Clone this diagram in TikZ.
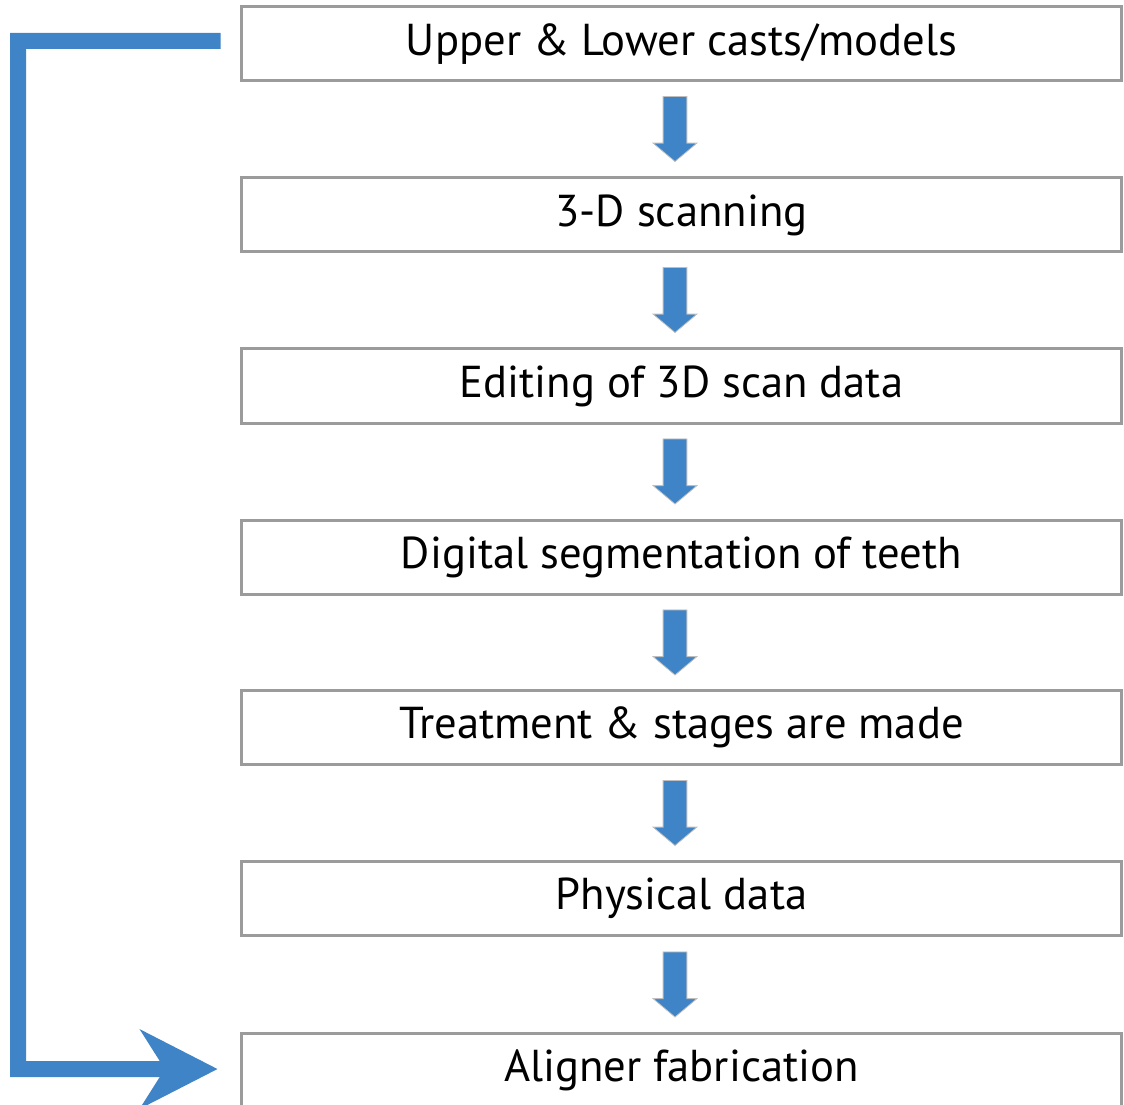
\documentclass[tikz,border=0pt]{standalone}
\usepackage{amsmath}
\usepackage{fontspec}
\setmainfont{PT Sans}
\usepackage{tikz}
\usetikzlibrary{shapes.arrows,arrows.meta}

\definecolor{flowblue}{RGB}{63,132,198}
\definecolor{boxgray}{RGB}{155,155,155}
\definecolor{edgegray}{RGB}{190,190,190}

\tikzset{
  stepbox/.style={draw=boxgray, line width=2.25pt, fill=white, minimum width=660pt, minimum height=55.5pt, inner sep=0pt, font=\fontsize{33.5}{38}\selectfont},
  downarrow/.style={single arrow, shape border rotate=270, fill=flowblue, draw=edgegray, line width=0.6pt, minimum height=48.75pt, minimum width=32.25pt, single arrow head extend=7.5pt, single arrow tip angle=100, inner sep=8.6pt},
  feedback/.style={draw=flowblue, line width=12pt, line join=miter, -{Stealth[length=58.5pt, width=60pt, inset=19pt, line width=0pt]}}
}

\begin{document}
\begin{tikzpicture}[x=0.75pt,y=0.75pt,yscale=-1,xscale=1]
\useasboundingbox (0,0) rectangle (1124,1105);

%Shape: Rectangle
\node[stepbox] (b1) at (681.5,44) {Upper \& Lower casts/models};
%Shape: Rectangle
\node[stepbox] (b2) at (681.5,215) {3-D scanning};
%Shape: Rectangle
\node[stepbox] (b3) at (681.5,386) {Editing of 3D scan data};
%Shape: Rectangle
\node[stepbox] (b4) at (681.5,557.5) {Digital segmentation of teeth};
%Shape: Rectangle
\node[stepbox] (b5) at (681.5,727) {Treatment \& stages are made};
%Shape: Rectangle
\node[stepbox] (b6) at (681.5,898) {Physical data};
%Shape: Rectangle
\node[stepbox] (b7) at (681.5,1070.5) {Aligner fabrication};

%Down Arrows
\node[downarrow] (a1) at (675,124) {};
\node[downarrow] (a2) at (675,295) {};
\node[downarrow] (a3) at (675,466.5) {};
\node[downarrow] (a4) at (675,637.5) {};
\node[downarrow] (a5) at (675,808) {};
\node[downarrow] (a6) at (675,979.5) {};

%Feedback line
\coordinate (fbtop) at (18,41);
\coordinate (fbbot) at (18,1069);
\draw[feedback] ([xshift=-14.6pt,yshift=-2.25pt]b1.west) -- (fbtop) -- (fbbot) -- ([xshift=-16.9pt,yshift=-1.1pt]b7.west);

\end{tikzpicture}
\end{document}
